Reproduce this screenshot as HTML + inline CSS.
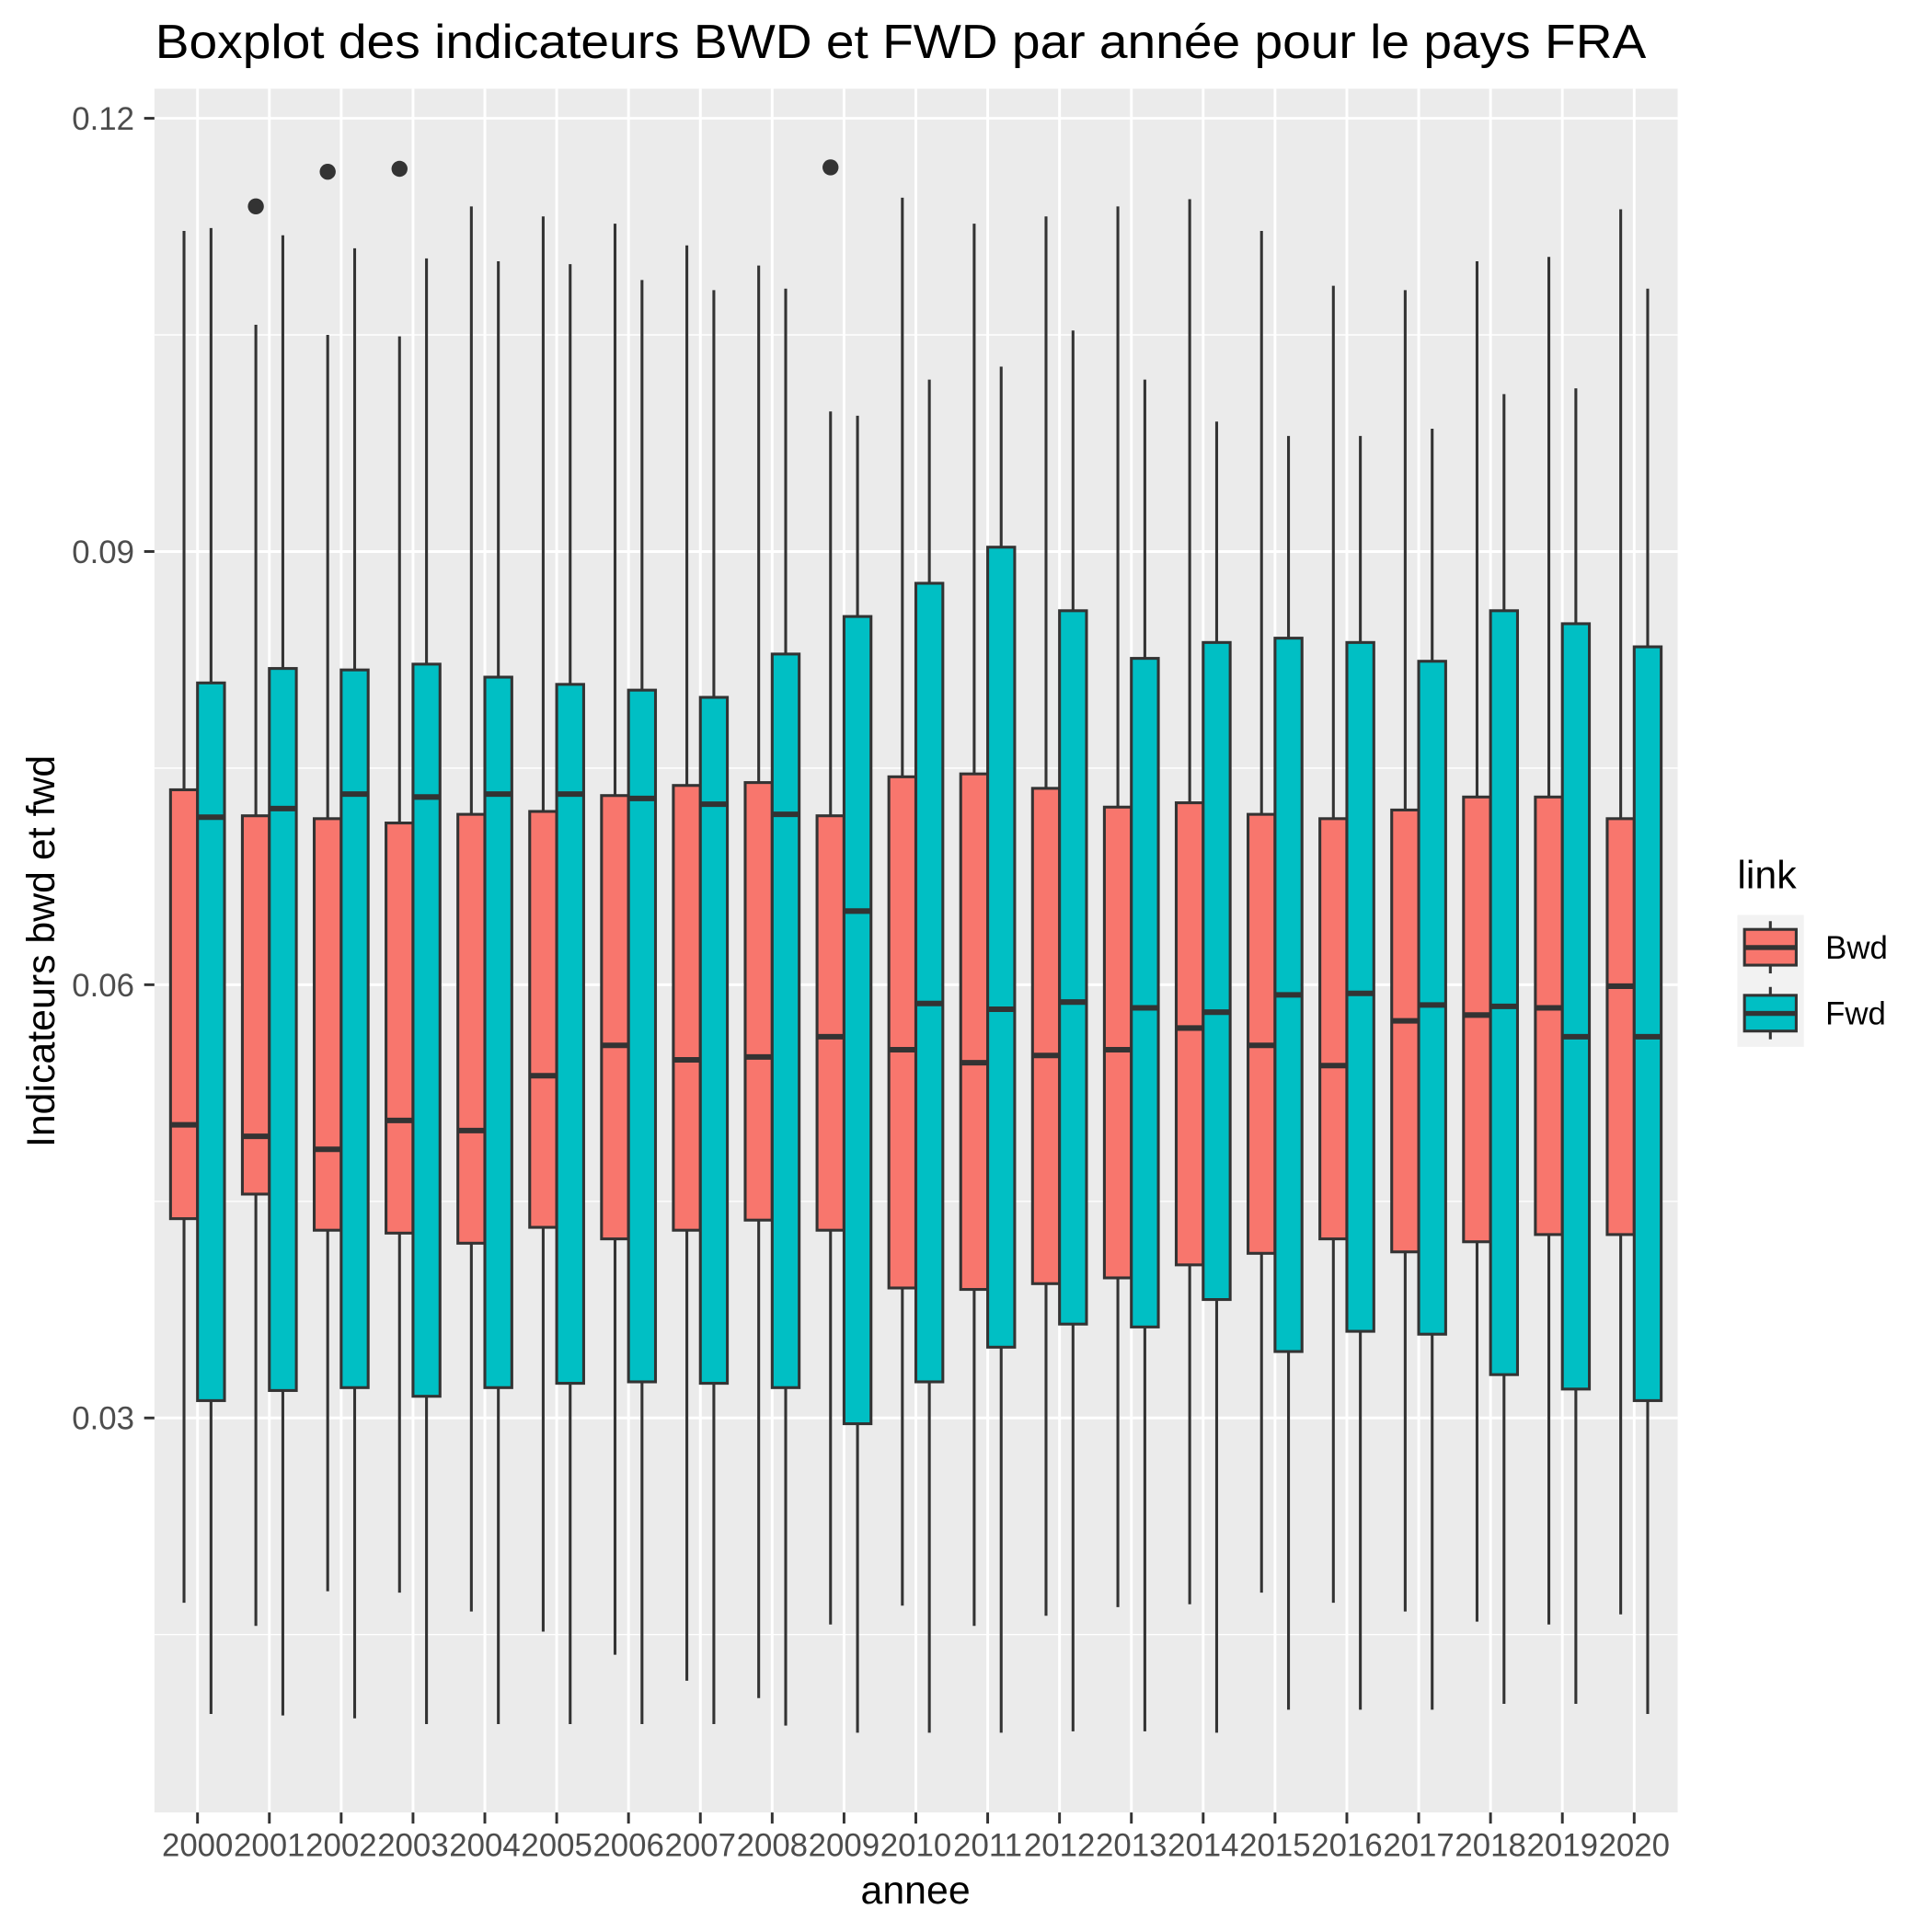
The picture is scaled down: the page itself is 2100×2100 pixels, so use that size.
<!DOCTYPE html>
<html><head><meta charset="utf-8"><style>html,body{margin:0;padding:0;background:#fff}svg{display:block}text{font-family:"Liberation Sans",sans-serif}</style></head>
<body>
<svg id="chart" width="2100" height="2100" viewBox="0 0 1568 1568" xmlns="http://www.w3.org/2000/svg">
<rect width="1568" height="1568" fill="#fff"/>
<text x="126" y="47" font-size="39" fill="#000" textLength="1210" lengthAdjust="spacingAndGlyphs">Boxplot des indicateurs BWD et FWD par année pour le pays FRA</text>
<rect x="125.3" y="72" width="1236.3" height="1399" fill="#ebebeb"/>
<g id="grid"></g>
<g id="marks"></g>
<g id="axes"></g>
<text x="743" y="1545" font-size="32" text-anchor="middle" fill="#000">annee</text>
<text transform="translate(44,772) rotate(-90)" font-size="32" text-anchor="middle" fill="#000">Indicateurs bwd et fwd</text>
<g>
<text x="1410" y="721" font-size="32" fill="#000">link</text>
<rect x="1410" y="742.6" width="54" height="107" fill="#f2f2f2"/>
<g>
<line x1="1436.8" y1="747.6" x2="1436.8" y2="790" stroke="#333" stroke-width="2.3"/>
<rect x="1415.8" y="754.3" width="42" height="29" fill="#F8766D" stroke="#333" stroke-width="2.3"/>
<line x1="1415.8" y1="769" x2="1457.8" y2="769" stroke="#333" stroke-width="4"/>
<text x="1481.5" y="778" font-size="26" fill="#000">Bwd</text></g>
<g>
<line x1="1436.8" y1="801" x2="1436.8" y2="843.5" stroke="#333" stroke-width="2.3"/>
<rect x="1415.8" y="807.8" width="42" height="29" fill="#00BFC4" stroke="#333" stroke-width="2.3"/>
<line x1="1415.8" y1="822.5" x2="1457.8" y2="822.5" stroke="#333" stroke-width="4"/>
<text x="1481.5" y="831.5" font-size="26" fill="#000">Fwd</text></g>
</g>
</svg>
<script>
const years=["2000","2001","2002","2003","2004","2005","2006","2007","2008","2009","2010","2011","2012","2013","2014","2015","2016","2017","2018","2019","2020"];
// [lower whisker, q1, median, q3, upper whisker]
const bwdStats=[
[0.0172,0.0438,0.0503,0.0735,0.1122],[0.0156,0.0455,0.0495,0.0717,0.1057],[0.0180,0.0430,0.0486,0.0715,0.1050],
[0.0179,0.0428,0.0506,0.0712,0.1049],[0.0166,0.0421,0.0499,0.0718,0.1139],[0.0152,0.0432,0.0537,0.0720,0.1132],
[0.0136,0.0424,0.0558,0.0731,0.1127],[0.0118,0.0430,0.0548,0.0738,0.1112],[0.0106,0.0437,0.0550,0.0740,0.1098],
[0.0157,0.0430,0.0564,0.0717,0.0997],[0.0170,0.0390,0.0555,0.0744,0.1145],[0.0156,0.0389,0.0546,0.0746,0.1127],
[0.0163,0.0393,0.0551,0.0736,0.1132],[0.0169,0.0397,0.0555,0.0723,0.1139],[0.0171,0.0406,0.0570,0.0726,0.1144],
[0.0179,0.0414,0.0558,0.0718,0.1122],[0.0172,0.0424,0.0544,0.0715,0.1084],[0.0166,0.0415,0.0575,0.0721,0.1081],
[0.0159,0.0422,0.0579,0.0730,0.1101],[0.0157,0.0427,0.0584,0.0730,0.1104],[0.0164,0.0427,0.0599,0.0715,0.1137]];
const fwdStats=[
[0.0095,0.0312,0.0716,0.0809,0.1124],[0.0094,0.0319,0.0722,0.0819,0.1119],[0.0092,0.0321,0.0732,0.0818,0.1110],
[0.0088,0.0315,0.0730,0.0822,0.1103],[0.0088,0.0321,0.0732,0.0813,0.1101],[0.0088,0.0324,0.0732,0.0808,0.1099],
[0.0088,0.0325,0.0729,0.0804,0.1088],[0.0088,0.0324,0.0725,0.0799,0.1081],[0.0087,0.0321,0.0718,0.0829,0.1082],
[0.0082,0.0296,0.0651,0.0855,0.0994],[0.0082,0.0325,0.0587,0.0878,0.1019],[0.0082,0.0349,0.0583,0.0903,0.1028],
[0.0083,0.0365,0.0588,0.0859,0.1053],[0.0083,0.0363,0.0584,0.0826,0.1019],[0.0082,0.0382,0.0581,0.0837,0.0990],
[0.0098,0.0346,0.0593,0.0840,0.0980],[0.0098,0.0360,0.0594,0.0837,0.0980],[0.0098,0.0358,0.0586,0.0824,0.0985],
[0.0102,0.0330,0.0585,0.0859,0.1009],[0.0102,0.0320,0.0564,0.0850,0.1013],[0.0095,0.0312,0.0564,0.0834,0.1082]];
const outlierYears=["2001","2002","2003","2009"];
const outlierValues=[0.1139,0.1163,0.1165,0.1166];
const yTicks=[0.03,0.06,0.09,0.12];
const yTickLabels=["0.03","0.06","0.09","0.12"];
const yMinor=[0.015,0.045,0.075,0.105];

const NS="http://www.w3.org/2000/svg";
const yScale=v=>1502.4-v*11720;
const step=58.3;
const xScale=c=>160.3+years.indexOf(c)*step;
const dodge=10.95, bw=21.9;
function mk(parent,tag,attrs){const e=document.createElementNS(NS,tag);for(const k in attrs)e.setAttribute(k,attrs[k]);document.getElementById(parent).appendChild(e);return e;}
const L=125.3,R=1361.6,T=72,B=1471;
yMinor.forEach(v=>{const e=mk('grid','line',{x1:L,x2:R,y1:yScale(v),y2:yScale(v),stroke:'#fff','stroke-width':1.1});

});
yTicks.forEach((v,i)=>{const e=mk('grid','line',{x1:L,x2:R,y1:yScale(v),y2:yScale(v),stroke:'#fff','stroke-width':2.2});


const t=mk('axes','line',{x1:117,x2:125.3,y1:yScale(v),y2:yScale(v),stroke:'#333','stroke-width':2.2});


const l=mk('axes','text',{x:109,y:yScale(v)+9.3,'font-size':26,'text-anchor':'end',fill:'#4d4d4d'});l.textContent=yTickLabels[i];

});
years.forEach(c=>{const x=xScale(c);
const g=mk('grid','line',{x1:x,x2:x,y1:T,y2:B,stroke:'#fff','stroke-width':2.2});


const t=mk('axes','line',{x1:x,x2:x,y1:B,y2:B+9,stroke:'#333','stroke-width':2.2});


const l=mk('axes','text',{x:x,y:1506.5,'font-size':26,'text-anchor':'middle',fill:'#4d4d4d'});l.textContent=c;

});
function drawBox(c,s,off,fill,name){const cx=xScale(c)+off;
const w=mk('marks','line',{x1:cx,x2:cx,y1:yScale(s[0]),y2:yScale(s[4]),stroke:'#333','stroke-width':2.3});


const r=mk('marks','rect',{x:cx-bw/2,y:yScale(s[3]),width:bw,height:yScale(s[1])-yScale(s[3]),fill:fill,stroke:'#333','stroke-width':2.3});


const m=mk('marks','line',{x1:cx-bw/2,x2:cx+bw/2,y1:yScale(s[2]),y2:yScale(s[2]),stroke:'#333','stroke-width':4.5});

}
years.forEach((c,i)=>{drawBox(c,bwdStats[i],-dodge,'#F8766D','bwd-'+c);drawBox(c,fwdStats[i],dodge,'#00BFC4','fwd-'+c);});
outlierYears.forEach((c,i)=>{const p=mk('marks','circle',{cx:xScale(c)-dodge,cy:yScale(outlierValues[i]),r:6.5,fill:'#333'});

});
</script>
</body></html>
